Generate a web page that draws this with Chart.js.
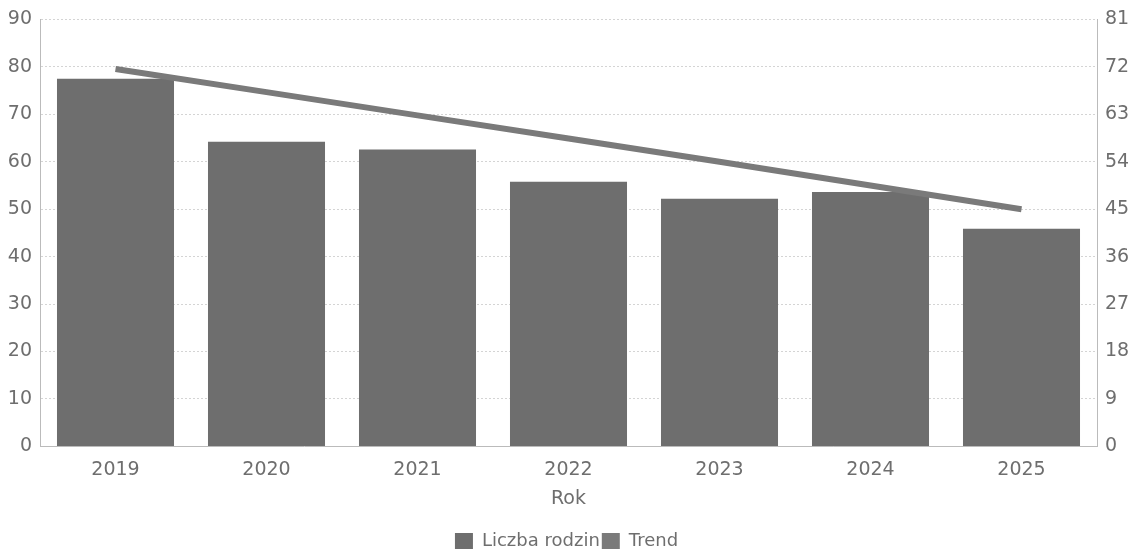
<!DOCTYPE html>
<html>
<head>
<meta charset="utf-8">
<script src="https://cdn.jsdelivr.net/npm/chart.js@4/dist/chart.umd.min.js"></script>
<style>
  html, body { margin: 0; padding: 0; background: #fff; }
  #wrap { width: 1133px; height: 553px; }
</style>
</head>
<body>
<div id="wrap"><canvas id="chart"></canvas></div>
<script>
// data
const years = ['2019', '2020', '2021', '2022', '2023', '2024', '2025'];
const families = [77.5, 64.2, 62.6, 55.8, 52.2, 53.6, 45.9];
const trend = [71.6, 67.2, 62.8, 58.4, 54.0, 49.5, 45.0];   // plotted on right axis
const leftTicks = [0, 10, 20, 30, 40, 50, 60, 70, 80, 90];
const rightTicks = [0, 9, 18, 27, 36, 45, 54, 63, 72, 81];

const tickColor = '#6e6e6e';
const gridColor = '#d4d4d4';
const tickFont = { family: 'DejaVu Sans', size: 19 };

const ctx = document.getElementById('chart').getContext('2d');

new Chart(ctx, {
    data: {
        labels: years,
        datasets: [
            {
                type: 'line',
                label: 'Trend',
                data: trend,
                yAxisID: 'y1',
                borderColor: '#7a7a7a',
                backgroundColor: '#7a7a7a',
                borderWidth: 6,
                pointRadius: 0,
                tension: 0,
                order: 0
            },
            {
                type: 'bar',
                label: 'Liczba rodzin',
                data: families,
                yAxisID: 'y',
                backgroundColor: '#6e6e6e',
                borderWidth: 0,
                categoryPercentage: 1,
                barPercentage: 0.775,
                order: 1
            }
        ]
    },
    options: {
        responsive: true,
        maintainAspectRatio: false,
        animation: false,
        layout: { padding: { left: 0, right: 0, top: 11, bottom: -7 } },
        plugins: {
            legend: {
                position: 'bottom',
                reverse: true,
                labels: {
                    color: '#6e6e6e',
                    font: { family: 'DejaVu Sans', size: 18 },
                    boxWidth: 18,
                    boxHeight: 16,
                    padding: 2,
                    generateLabels: chart => {
                        const items = Chart.defaults.plugins.legend.labels.generateLabels(chart);
                        items.forEach(it => { it.lineWidth = 0; });
                        return items;
                    }
                }
            },
            tooltip: { enabled: false }
        },
        scales: {
            x: {
                offset: true,
                grid: { display: false },
                border: { color: '#bbb', dash: [2, 2] },
                ticks: { color: tickColor, font: tickFont, padding: 4 },
                title: {
                    display: true,
                    text: 'Rok',
                    color: tickColor,
                    font: { family: 'DejaVu Sans', size: 19 },
                    padding: { top: 2, bottom: 20 }
                }
            },
            y: {
                position: 'left',
                min: 0,
                max: 90,
                afterBuildTicks: axis => { axis.ticks = leftTicks.map(v => ({ value: v })); },
                afterFit: axis => { axis.width = 40; },
                grid: { color: gridColor, borderDash: [2, 2], drawTicks: false },
                border: { color: '#bbb', dash: [2, 2] },
                ticks: { color: tickColor, font: tickFont, padding: 8 }
            },
            y1: {
                position: 'right',
                min: 0,
                max: 81,
                afterBuildTicks: axis => { axis.ticks = rightTicks.map(v => ({ value: v })); },
                afterFit: axis => { axis.width = 36; },
                grid: { display: false, drawTicks: false },
                border: { color: '#bbb', dash: [2, 2] },
                ticks: { color: tickColor, font: tickFont, padding: 8 }
            }
        }
    }
});
</script>
</body>
</html>
